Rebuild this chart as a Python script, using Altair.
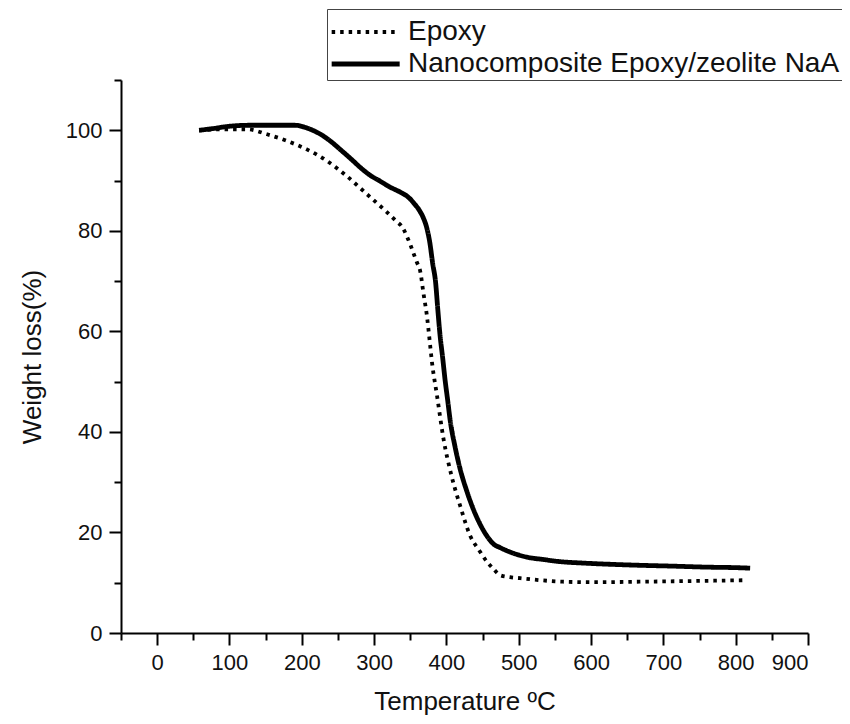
import altair as alt
import pandas as pd

# Series data (Temperature °C, Weight %)
epoxy_T = [58, 90, 124, 152, 179, 207, 235, 262, 290, 317, 330, 340, 345, 350, 354, 359,
           364, 368, 373, 377, 380, 387, 396, 407, 419, 433, 445, 456, 466, 474, 488, 502,
           530, 561, 600, 667, 720, 770, 811]
epoxy_W = [100.0, 100.2, 100.2, 99.2, 97.9, 96.2, 93.9, 90.9, 87.3, 83.8, 82.0, 80.5, 79.0,
           77.3, 75.7, 73.8, 71.8, 67.8, 63.1, 57.9, 53.9, 47.2, 38.6, 31.3, 25.3, 19.3, 16.5,
           14.2, 12.6, 11.5, 11.1, 10.9, 10.5, 10.2, 10.1, 10.2, 10.3, 10.4, 10.5]

nano_T = [58, 80, 100, 130, 160, 190, 210, 226, 240, 253, 268, 281, 295, 308, 322, 336, 348,
          355, 362, 368, 373, 377, 381, 385, 388, 391, 395, 398, 402, 405, 412, 419, 428, 437,
          446, 456, 466, 474, 490, 511, 535, 557, 590, 621, 660, 713, 760, 800, 820]
nano_W = [100.0, 100.4, 100.8, 101.0, 101.0, 101.0, 100.3, 99.2, 97.8, 96.2, 94.3, 92.6, 91.0,
          89.9, 88.7, 87.7, 86.6, 85.5, 84.2, 82.6, 80.5, 77.7, 73.5, 69.8, 64.5, 59.5, 54.5,
          50.5, 46.0, 42.5, 37.0, 32.6, 28.3, 24.7, 21.8, 19.3, 17.6, 17.0, 16.0, 15.1, 14.6,
          14.2, 13.9, 13.7, 13.5, 13.3, 13.1, 13.0, 12.9]

series_names = ["Epoxy", "Nanocomposite Epoxy/zeolite NaA"]
x_ticks = list(range(-50, 901, 50))
y_ticks = list(range(0, 111, 10))

df = pd.concat([
    pd.DataFrame({"T": epoxy_T, "W": epoxy_W, "series": series_names[0], "order": range(len(epoxy_T))}),
    pd.DataFrame({"T": nano_T, "W": nano_W, "series": series_names[1], "order": range(len(nano_T))}),
])

legend_kw = dict(title=" ", titleFontSize=1, titlePadding=6,
                 orient="none", legendX=206, legendY=-71,
                 symbolType="M-1,0H5", symbolSize=514,
                 labelFontSize=28, labelLimit=800, padding=2, rowPadding=4,
                 labelOffset=51,
                 fillColor="white", strokeColor="#444")

chart = alt.Chart(df).mark_line(color="black", interpolate="monotone").encode(
    x=alt.X("T:Q", scale=alt.Scale(domain=[-50, 900], nice=False, zero=False),
            axis=alt.Axis(values=x_ticks, title="Temperature ºC",
                          labelExpr="datum.value % 100 == 0 ? datum.label : ''",
                          tickSize={"condition": {"test": "datum.value % 100 != 0", "value": 7}, "value": 12},
                          labelPadding=7, titlePadding=15, labelOverlap=False)),
    y=alt.Y("W:Q", scale=alt.Scale(domain=[0, 110], nice=False),
            axis=alt.Axis(values=y_ticks, title="Weight loss(%)",
                          labelExpr="datum.value % 20 == 0 ? datum.label : ''",
                          tickSize={"condition": {"test": "datum.value % 20 != 0", "value": 7}, "value": 12},
                          labelPadding=7, titlePadding=20, labelOverlap=False)),
    strokeDash=alt.StrokeDash("series:N", scale=alt.Scale(domain=series_names, range=[[3.5, 5], [1, 0]]),
                              legend=alt.Legend(**legend_kw)),
    strokeWidth=alt.StrokeWidth("series:N", scale=alt.Scale(domain=series_names, range=[3.8, 4.8]),
                                legend=alt.Legend(**legend_kw)),
    detail="series:N",
    order="order:Q",
).properties(
    width=687, height=553,
    autosize=alt.AutoSizeParams(type="none"),
    padding={"left": 113, "top": 72, "right": 34, "bottom": 82},
).configure_view(stroke=None).configure_axis(
    grid=False, domainColor="black", domainWidth=2, tickColor="black", tickWidth=2,
    labelFont="Liberation Sans", labelFontSize=22, labelColor="#111",
    titleFont="Liberation Sans", titleFontSize=26, titleFontWeight="normal", titleColor="#111",
).configure_legend(
    labelFont="Liberation Sans", labelColor="#111", symbolStrokeColor="black",
)

chart.save("out.html", embed_options={"renderer": "svg", "actions": False})
